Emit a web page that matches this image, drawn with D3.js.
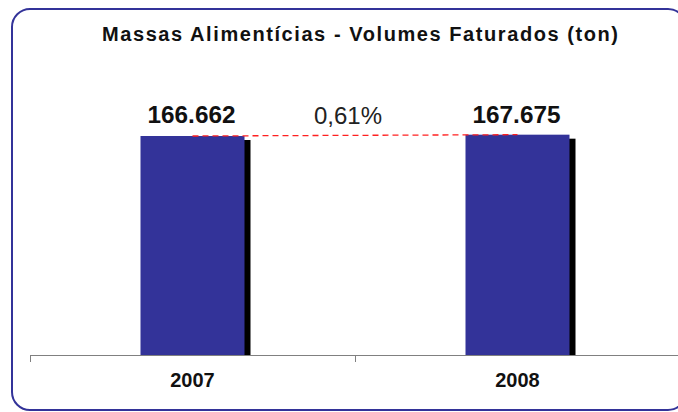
<!DOCTYPE html>
<html>
<head>
<meta charset="utf-8">
<script src="https://cdn.jsdelivr.net/npm/d3@7"></script>
<style>
  body { margin: 0; background: #fff; }
  svg { display: block; font-family: "Liberation Sans", Arial, sans-serif; }
</style>
</head>
<body>
<div class="container"></div>
<script>
// data
var years = ["2007", "2008"];
var volumes = [166662, 167675];
var title = "Massas Alimentícias - Volumes Faturados (ton)";

var W = 678, H = 412;
var svg = d3.select('.container').append("svg")
	.attr("width", W)
	.attr("height", H);

// frame with rounded corners (runs off the right edge)
svg.append("rect")
	.attr("x", 12).attr("y", 9)
	.attr("width", 674).attr("height", 401)
	.attr("rx", 18).attr("ry", 18)
	.style("fill", "none")
	.style("stroke", "#333399")
	.style("stroke-width", 2);

svg.append("text")
	.attr("x", 360).attr("y", 41)
	.attr("text-anchor", "middle")
	.attr("textLength", 516)
	.attr("lengthAdjust", "spacing")
	.style("font-size", "20px")
	.style("font-weight", "bold")
	.style("fill", "#111")
	.text(title);

var x = d3.scaleBand().domain(years).range([30, 680]).paddingInner(0.68).paddingOuter(0.34);
var y = d3.scaleLinear().domain([0, 200000]).range([355, 92.2]);

var bw = x.bandwidth();
var rows = years.map(function(d, i){ return {year: d, v: volumes[i]}; });

// shadow
svg.selectAll(".shadow").data(rows).enter().append("rect")
	.attr("class", "shadow")
	.attr("x", function(d){ return x(d.year) + 6; })
	.attr("y", function(d){ return y(d.v) + 4; })
	.attr("width", bw)
	.attr("height", function(d){ return y(0) - y(d.v) - 4; })
	.style("fill", "#000");

svg.selectAll(".bar").data(rows).enter().append("rect")
	.attr("class", "bar")
	.attr("x", function(d){ return x(d.year); })
	.attr("y", function(d){ return y(d.v); })
	.attr("width", bw)
	.attr("height", function(d){ return y(0) - y(d.v); })
	.style("fill", "#333399");

// value labels
var fmt = d3.formatLocale({decimal: ",", thousands: ".", grouping: [3], currency: ["", ""]});
svg.selectAll(".val").data(rows).enter().append("text")
	.attr("class", "val")
	.attr("x", function(d){ return x(d.year) + bw / 2 - 1; })
	.attr("y", 123)
	.attr("text-anchor", "middle")
	.attr("textLength", 88)
	.attr("lengthAdjust", "spacingAndGlyphs")
	.style("font-size", "23px")
	.style("font-weight", "bold")
	.style("fill", "#111")
	.text(function(d){ return fmt.format(",")(d.v); });

// growth line between bar tops
var cx = function(d){ return x(d.year) + bw / 2; };
svg.append("line")
	.attr("x1", cx(rows[0])).attr("y1", y(rows[0].v))
	.attr("x2", cx(rows[1])).attr("y2", y(rows[1].v))
	.style("stroke", "#ff2020")
	.style("stroke-width", 1.3)
	.style("stroke-dasharray", "6,4");

var growth = volumes[1] / volumes[0] - 1;
svg.append("text")
	.attr("x", 348).attr("y", 124)
	.attr("text-anchor", "middle")
	.style("font-size", "24px")
	.style("fill", "#222")
	.text(fmt.format(".2%")(growth));

// x axis: line, ticks at band edges, labels in the middle
var ax = svg.append("g");
ax.append("line")
	.attr("x1", 30).attr("x2", 690)
	.attr("y1", 355.5).attr("y2", 355.5)
	.style("stroke", "#808080");
var edges = [30, 355];
ax.selectAll(".tk").data(edges).enter().append("line")
	.attr("x1", function(d){ return d + 0.5; }).attr("x2", function(d){ return d + 0.5; })
	.attr("y1", 355).attr("y2", 362)
	.style("stroke", "#808080");
ax.selectAll(".lbl").data(years).enter().append("text")
	.attr("x", function(d){ return x(d) + bw / 2; })
	.attr("y", 387)
	.attr("text-anchor", "middle")
	.style("font-size", "20px")
	.style("font-weight", "bold")
	.style("fill", "#111")
	.text(function(d){ return d; });
</script>
</body>
</html>
